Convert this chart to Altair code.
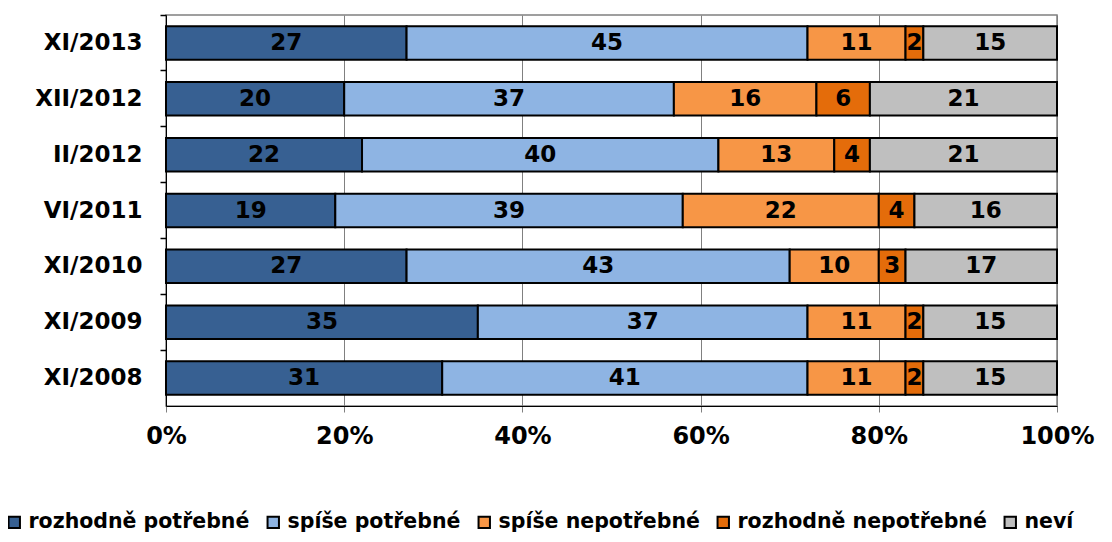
import altair as alt
import pandas as pd

periods = ["XI/2013", "XII/2012", "II/2012", "VI/2011", "XI/2010", "XI/2009", "XI/2008"]
series = ["rozhodně potřebné", "spíše potřebné", "spíše nepotřebné", "rozhodně nepotřebné", "neví"]
colors = ["#376092", "#8EB4E3", "#F79646", "#E46C0A", "#BFBFBF"]

rozhodne_potrebne = [27, 20, 22, 19, 27, 35, 31]
spise_potrebne = [45, 37, 40, 39, 43, 37, 41]
spise_nepotrebne = [11, 16, 13, 22, 10, 11, 11]
rozhodne_nepotrebne = [2, 6, 4, 4, 3, 2, 2]
nevi = [15, 21, 21, 16, 17, 15, 15]

values = [rozhodne_potrebne, spise_potrebne, spise_nepotrebne, rozhodne_nepotrebne, nevi]
rows = []
for si, (s, vals) in enumerate(zip(series, values)):
    for p, v in zip(periods, vals):
        rows.append({"period": p, "series": s, "order": si, "value": v})
df = pd.DataFrame(rows)

FONT = "DejaVu Sans"

base = alt.Chart(df).transform_stack(
    stack="value", groupby=["period"], as_=["x0", "x1"],
    sort=[alt.SortField("order", order="ascending")], offset="normalize"
).transform_calculate(mid="(datum.x0 + datum.x1) / 2")

y_enc = alt.Y(
    "period:N", sort=periods, title=None,
    scale=alt.Scale(paddingInner=0.4, paddingOuter=0.2),
    axis=alt.Axis(
        labelFont=FONT, labelFontWeight="bold", labelFontSize=23, labelColor="black",
        domainColor="black", domainWidth=1, tickColor="black", tickWidth=1.5, tickSize=6,
        labelPadding=18, bandPosition=-0.3333, grid=False,
    ),
)

bars = base.mark_bar(stroke="black", strokeWidth=2).encode(
    x=alt.X(
        "x0:Q", title=None,
        scale=alt.Scale(domain=[0, 1], nice=False),
        axis=alt.Axis(
            values=[0, 0.2, 0.4, 0.6, 0.8, 1.0], format=".0%", labelFlush=False,
            labelFont=FONT, labelFontWeight="bold", labelFontSize=24, labelColor="black",
            domainColor="black", tickColor="#808080", tickSize=6, labelPadding=12,
            grid=True, gridColor="#808080", gridWidth=1,
        ),
    ),
    x2="x1:Q",
    y=y_enc,
    color=alt.Color(
        "series:N", title=None,
        scale=alt.Scale(domain=series, range=colors),
        sort=series,
        legend=alt.Legend(
            orient="none", legendX=-162, legendY=497, direction="horizontal", columns=5,
            symbolType="square", symbolSize=130, symbolStrokeColor="black", symbolStrokeWidth=2,
            labelFont=FONT, labelFontWeight="bold", labelFontSize=20.5, labelColor="black",
            labelOffset=4, columnPadding=13, labelLimit=400,
        ),
    ),
    order=alt.Order("order:Q"),
)

labels = base.mark_text(font=FONT, fontWeight="bold", fontSize=23, color="black").encode(
    x=alt.X("mid:Q"),
    y=alt.Y("period:N", sort=periods),
    text=alt.Text("value:Q"),
)

chart = alt.layer(bars, labels).properties(
    width=891, height=391,
    autosize=alt.AutoSizeParams(type="none"),
    padding={"left": 158, "top": 7, "right": 47, "bottom": 128},
).configure_view(stroke="#808080", strokeWidth=1.5)

chart.save("out.html", embed_options={"renderer": "svg", "actions": False})
